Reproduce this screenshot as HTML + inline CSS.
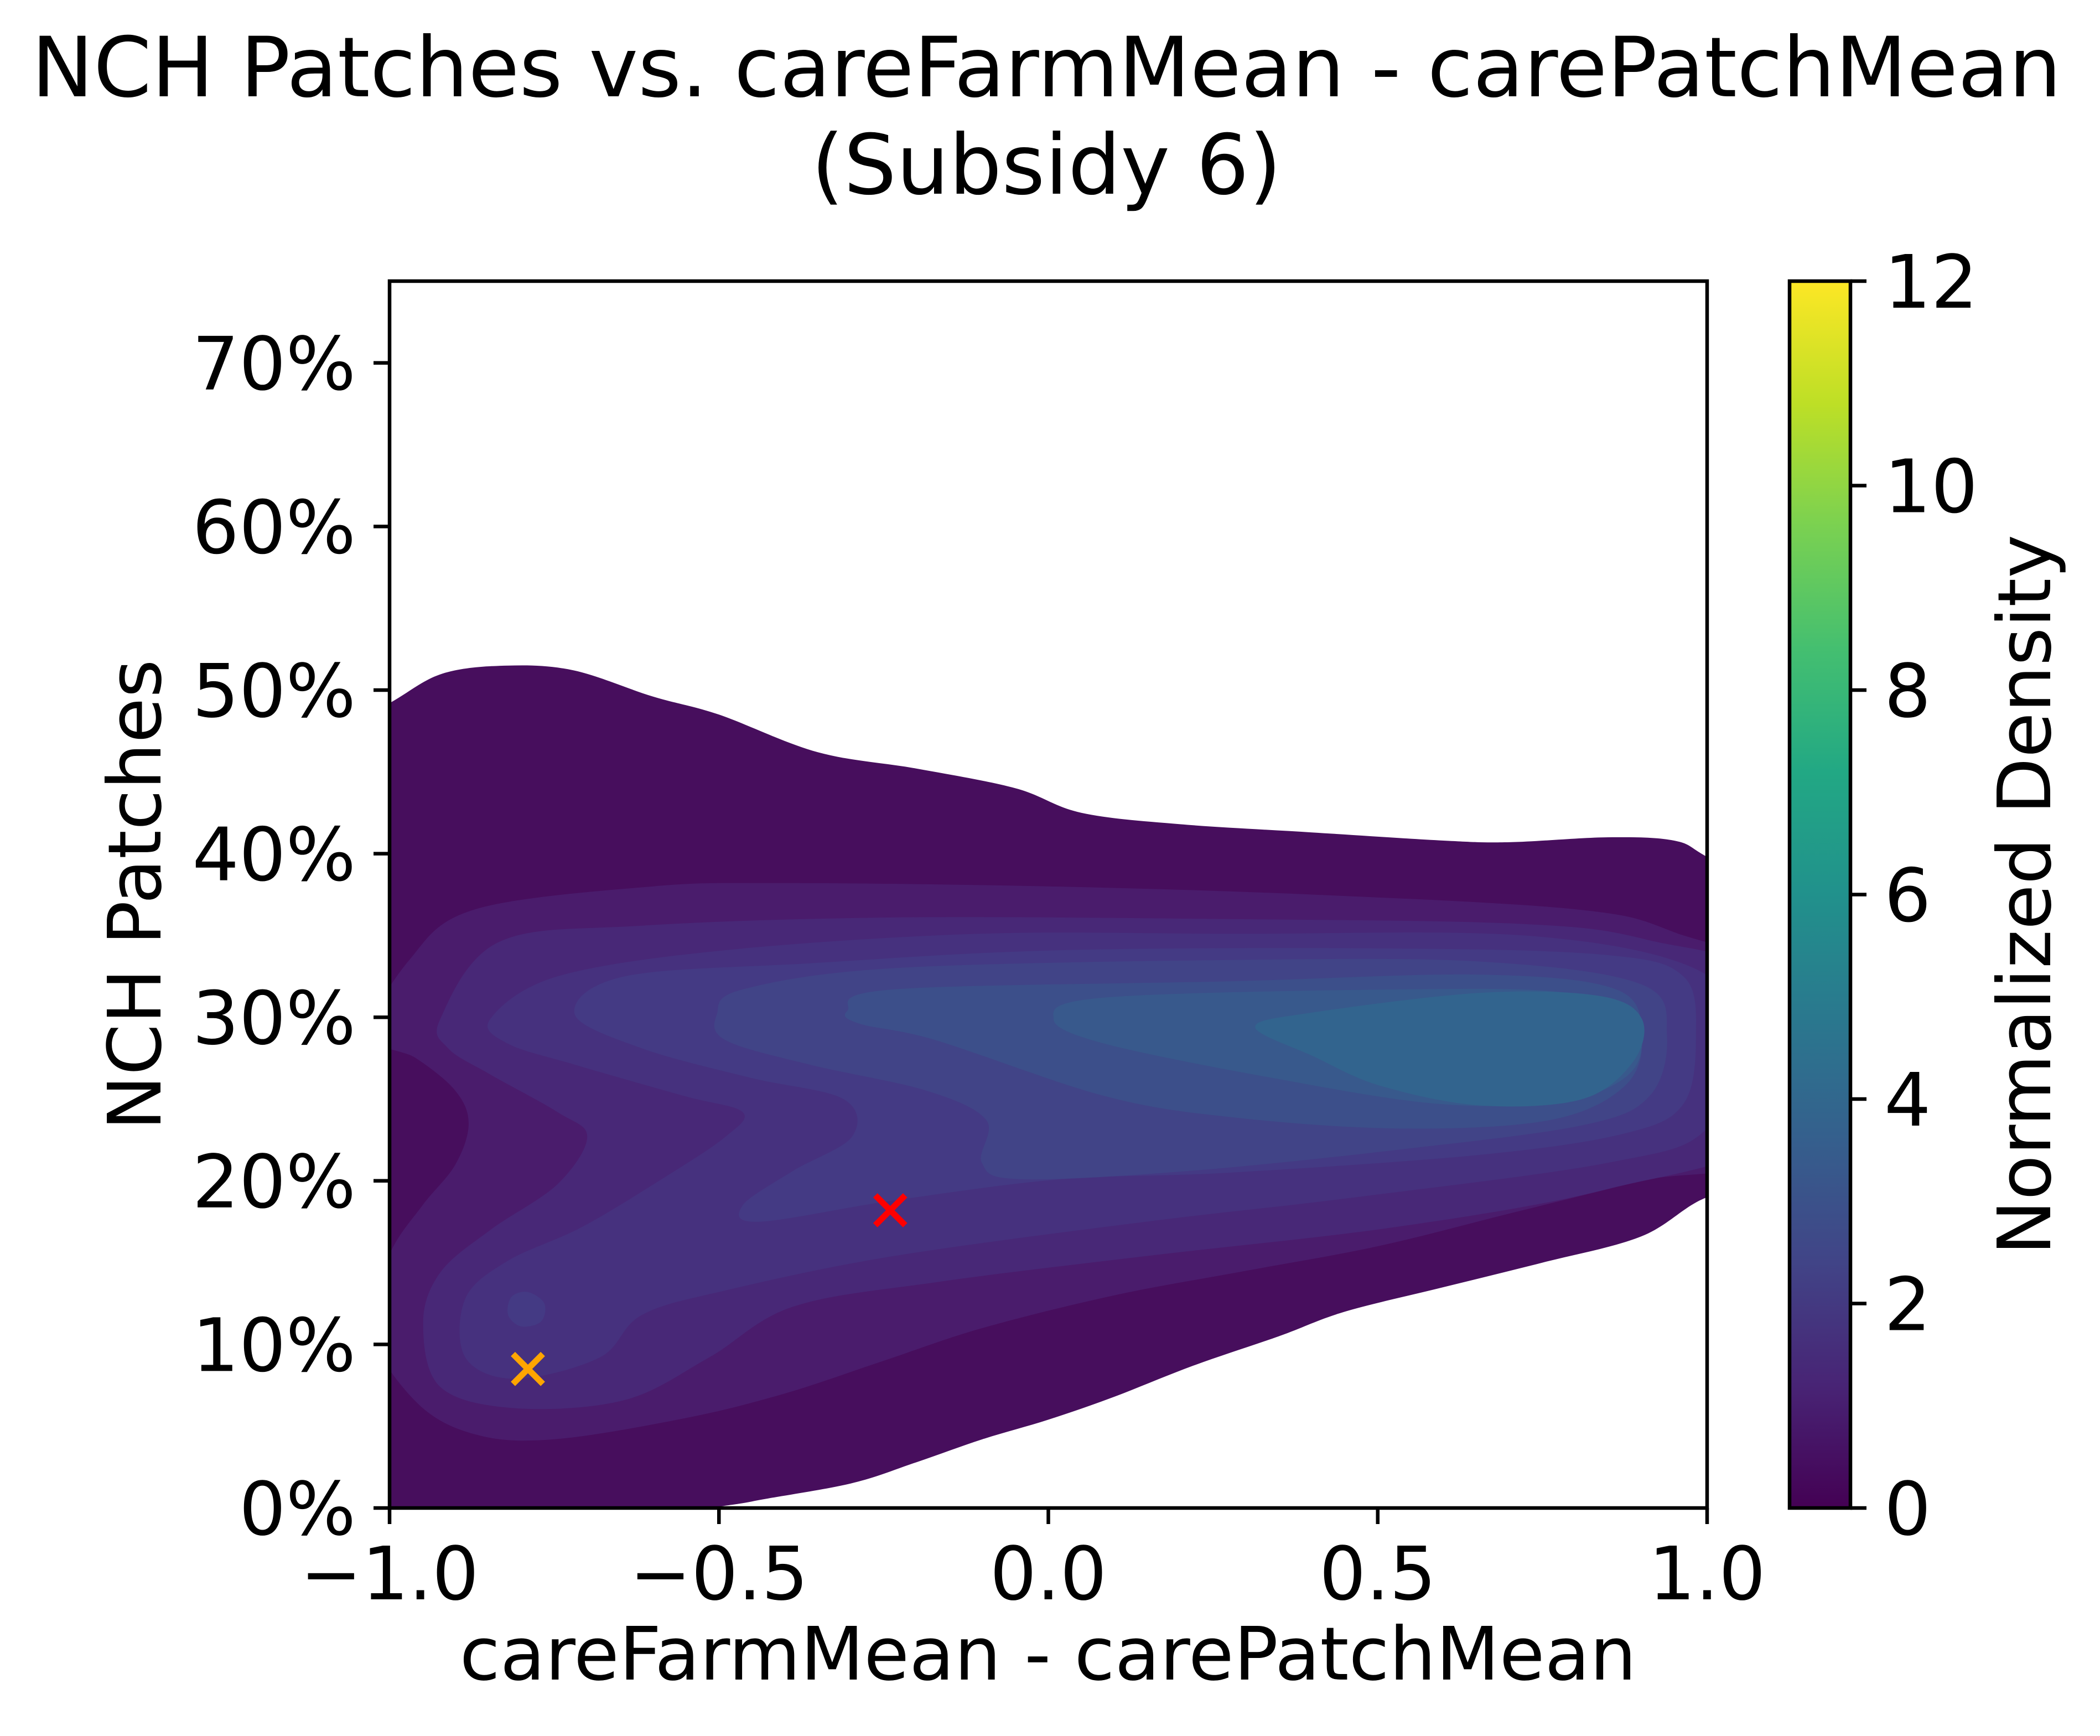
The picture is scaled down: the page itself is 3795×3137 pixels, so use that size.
<!DOCTYPE html>
<html><head><meta charset="utf-8">
<style>
html,body{margin:0;padding:0;background:#fff;}
svg{display:block;}
text{font-family:"DejaVu Sans","Liberation Sans",sans-serif;fill:#000;}
</style></head>
<body>
<svg id="chart" width="3795" height="3137" viewBox="0 0 3795 3137" xmlns="http://www.w3.org/2000/svg">
<defs>
<clipPath id="axclip"><rect x="704" y="508" width="2381" height="2217"/></clipPath>
<linearGradient id="viridis" x1="0" y1="1" x2="0" y2="0">
<stop offset="0" stop-color="#440154"/><stop offset="0.1" stop-color="#482475"/>
<stop offset="0.2" stop-color="#414487"/><stop offset="0.3" stop-color="#355f8d"/>
<stop offset="0.4" stop-color="#2a788e"/><stop offset="0.5" stop-color="#21918c"/>
<stop offset="0.6" stop-color="#22a884"/><stop offset="0.7" stop-color="#44bf70"/>
<stop offset="0.8" stop-color="#7ad151"/><stop offset="0.9" stop-color="#bddf26"/>
<stop offset="1" stop-color="#fde725"/>
</linearGradient>
</defs>
<text x="1891" y="174" font-size="150" text-anchor="middle">NCH Patches vs. careFarmMean - carePatchMean</text>
<text x="1891" y="350" font-size="150" text-anchor="middle">(Subsidy 6)</text>
<g id="contours" clip-path="url(#axclip)"></g>
<g id="markers"></g>
<rect x="704" y="508" width="2381" height="2217" fill="none" stroke="#000" stroke-width="6.5"/>
<g id="xticks"></g>
<g id="yticks"></g>
<text x="1894" y="3035" font-size="133" text-anchor="middle">careFarmMean - carePatchMean</text>
<text transform="translate(290,1617) rotate(-90)" font-size="133" text-anchor="middle">NCH Patches</text>
<rect x="3234" y="508" width="110" height="2217" fill="url(#viridis)" stroke="#000" stroke-width="6.5"/>
<g id="cbticks"></g>
<text transform="translate(3705,1617) rotate(-90)" font-size="133" text-anchor="middle">Normalized Density</text>
</svg>
<script>
const xTicks=[-1,-0.5,0,0.5,1];
const xTickLabels=["\u22121.0","\u22120.5","0.0","0.5","1.0"];
const yTicks=[0,0.1,0.2,0.3,0.4,0.5,0.6,0.7];
const yTickLabels=["0%","10%","20%","30%","40%","50%","60%","70%"];
const cbTicks=[0,2,4,6,8,10,12];
const levelColors=["#470e5d","#4a1c6c","#482877","#46317e","#443a84","#414487","#3c4f8a","#38598c","#32648e"];
const lvl0=[[-1.1,0.47],[-1,0.492],[-0.92,0.51],[-0.82,0.515],[-0.72,0.512],[-0.6,0.496],[-0.5,0.485],[-0.35,0.462],[-0.2,0.452],[-0.05,0.44],[0.05,0.425],[0.2,0.418],[0.4,0.413],[0.6,0.408],[0.7,0.407],[0.85,0.41],[0.95,0.408],[1.0,0.398],[1.12,0.37],[1.12,0.2],[1.0,0.19],[0.9,0.166],[0.75,0.15],[0.6,0.135],[0.45,0.12],[0.35,0.105],[0.22,0.087],[0.1,0.068],[0,0.054],[-0.1,0.042],[-0.2,0.028],[-0.3,0.015],[-0.45,0.004],[-0.55,-0.005],[-0.75,-0.04],[-1.1,-0.04]];
const lvl1=[[-1.03,0.29],[-0.97,0.335],[-0.87,0.366],[-0.6,0.38],[-0.4,0.382],[0,0.38],[0.4,0.375],[0.8,0.366],[0.95,0.352],[1.1,0.32],[1.1,0.22],[0.9,0.2],[0.7,0.18],[0.5,0.16],[0.3,0.145],[0.1,0.13],[-0.1,0.11],[-0.25,0.09],[-0.4,0.07],[-0.55,0.055],[-0.75,0.042],[-0.87,0.045],[-0.96,0.065],[-1.03,0.11],[-1.0,0.155],[-0.95,0.185],[-0.9,0.21],[-0.88,0.235],[-0.9,0.255],[-0.96,0.275]];
const lvl2=[[-0.923,0.299],[-0.834,0.346],[-0.617,0.356],[-0.235,0.361],[0.276,0.36],[0.722,0.357],[0.913,0.347],[1.1,0.32],[1.1,0.23],[0.849,0.195],[0.531,0.172],[0.148,0.154],[-0.171,0.138],[-0.388,0.123],[-0.515,0.092],[-0.643,0.066],[-0.809,0.061],[-0.923,0.074],[-0.949,0.113],[-0.923,0.144],[-0.847,0.17],[-0.745,0.198],[-0.7,0.227],[-0.745,0.242],[-0.847,0.265],[-0.911,0.281]];
const lvl3=[[-0.847,0.299],[-0.745,0.325],[-0.49,0.341],[-0.107,0.351],[0.276,0.351],[0.722,0.35],[0.98,0.33],[1.05,0.29],[1.0,0.232],[0.849,0.211],[0.467,0.19],[0.148,0.175],[-0.235,0.154],[-0.49,0.133],[-0.617,0.118],[-0.681,0.092],[-0.809,0.079],[-0.885,0.092],[-0.885,0.128],[-0.821,0.151],[-0.707,0.172],[-0.579,0.203],[-0.49,0.227],[-0.464,0.242],[-0.554,0.252],[-0.719,0.271],[-0.821,0.284]];
const lvl4=[[-0.719,0.302],[-0.643,0.325],[-0.362,0.333],[0.02,0.341],[0.531,0.342],[0.849,0.338],[0.964,0.325],[0.983,0.289],[0.964,0.247],[0.875,0.229],[0.658,0.216],[0.276,0.205],[0.02,0.201],[-0.235,0.188],[-0.439,0.175],[-0.464,0.185],[-0.388,0.206],[-0.298,0.227],[-0.311,0.25],[-0.452,0.263],[-0.617,0.281]];
const blob=[[-0.79,0.132],[-0.765,0.125],[-0.77,0.114],[-0.8,0.111],[-0.82,0.118],[-0.815,0.129]];
const lvl5=[[-0.503,0.302],[-0.464,0.317],[-0.235,0.33],[0.276,0.335],[0.658,0.334],[0.901,0.32],[0.939,0.289],[0.913,0.252],[0.811,0.234],[0.531,0.219],[0.212,0.206],[-0.043,0.201],[-0.101,0.211],[-0.094,0.237],[-0.184,0.255],[-0.362,0.271],[-0.49,0.286]];
const lvl6=[[-0.305,0.304],[-0.235,0.317],[0.276,0.322],[0.658,0.326],[0.862,0.317],[0.901,0.289],[0.875,0.258],[0.76,0.237],[0.531,0.232],[0.276,0.239],[0.084,0.252],[-0.171,0.286],[-0.286,0.296]];
const lvl7=[[0.008,0.299],[0.084,0.312],[0.531,0.317],[0.786,0.315],[0.888,0.299],[0.888,0.268],[0.786,0.249],[0.594,0.247],[0.339,0.263],[0.084,0.284]];
const lvl8=[[0.314,0.294],[0.403,0.303],[0.658,0.315],[0.837,0.313],[0.901,0.299],[0.888,0.273],[0.811,0.25],[0.658,0.246],[0.505,0.258],[0.403,0.276]];
const pointsX=[-0.79,-0.24];
const pointsY=[0.085,0.182];
const pointColors=["orange","red"];
const pointNames=["marker-orange","marker-red"];

const X0=704,X1=3085,Y0=2725,Y1=508;
const sx=v=>X0+(v+1)/2*(X1-X0);
const sy=v=>Y0-v/0.75*(Y0-Y1);
const cy=v=>Y0-v/12*(Y0-Y1);
const NS="http://www.w3.org/2000/svg";
function mk(tag,attrs,parent){const e=document.createElementNS(NS,tag);for(const k in attrs)e.setAttribute(k,attrs[k]);parent.appendChild(e);return e;}
function smooth(pts){
  const p=pts.map(d=>[sx(d[0]),sy(d[1])]);const n=p.length;
  let s="M"+p[0][0].toFixed(1)+","+p[0][1].toFixed(1);
  for(let i=0;i<n;i++){
    const a=p[(i-1+n)%n],b=p[i],c=p[(i+1)%n],d=p[(i+2)%n];
    const c1=[b[0]+(c[0]-a[0])/6,b[1]+(c[1]-a[1])/6];
    const c2=[c[0]-(d[0]-b[0])/6,c[1]-(d[1]-b[1])/6];
    s+="C"+c1[0].toFixed(1)+","+c1[1].toFixed(1)+" "+c2[0].toFixed(1)+","+c2[1].toFixed(1)+" "+c[0].toFixed(1)+","+c[1].toFixed(1);
  }
  return s+"Z";
}
const cg=document.getElementById("contours");
const levels=[lvl0,lvl1,lvl2,lvl3,lvl4,blob,lvl5,lvl6,lvl7,lvl8];
const lvlColorIdx=[0,1,2,3,4,4,5,6,7,8];
levels.forEach((L,i)=>{
  const e=mk("path",{d:smooth(L),fill:levelColors[lvlColorIdx[i]]},cg);
  
  
});
const mg=document.getElementById("markers");
pointsX.forEach((v,i)=>{
  const x=sx(v),y=sy(pointsY[i]),r=27;
  const e=mk("path",{d:`M${x-r},${y-r}L${x+r},${y+r}M${x-r},${y+r}L${x+r},${y-r}`,stroke:pointColors[i],"stroke-width":11,fill:"none"},mg);
  
  
});
const xg=document.getElementById("xticks");
xTicks.forEach((v,i)=>{
  const x=sx(v);
  const t=mk("line",{x1:x,x2:x,y1:Y0,y2:Y0+29,stroke:"#000","stroke-width":6.5},xg);
  
  
  const l=mk("text",{x:x,y:2890,"font-size":133,"text-anchor":"middle"},xg);
  l.textContent=xTickLabels[i];
  
  
});
const yg=document.getElementById("yticks");
yTicks.forEach((v,i)=>{
  const y=sy(v);
  const t=mk("line",{x1:X0-29,x2:X0,y1:y,y2:y,stroke:"#000","stroke-width":6.5},yg);
  
  
  const l=mk("text",{x:643,y:y+48,"font-size":133,"text-anchor":"end"},yg);
  l.textContent=yTickLabels[i];
  
  
});
const cg2=document.getElementById("cbticks");
cbTicks.forEach(v=>{
  const y=cy(v);
  const t=mk("line",{x1:3344,x2:3373,y1:y,y2:y,stroke:"#000","stroke-width":6.5},cg2);
  
  
  const l=mk("text",{x:3405,y:y+48,"font-size":133},cg2);
  l.textContent=String(v);
  
  
});
</script>
</body></html>
